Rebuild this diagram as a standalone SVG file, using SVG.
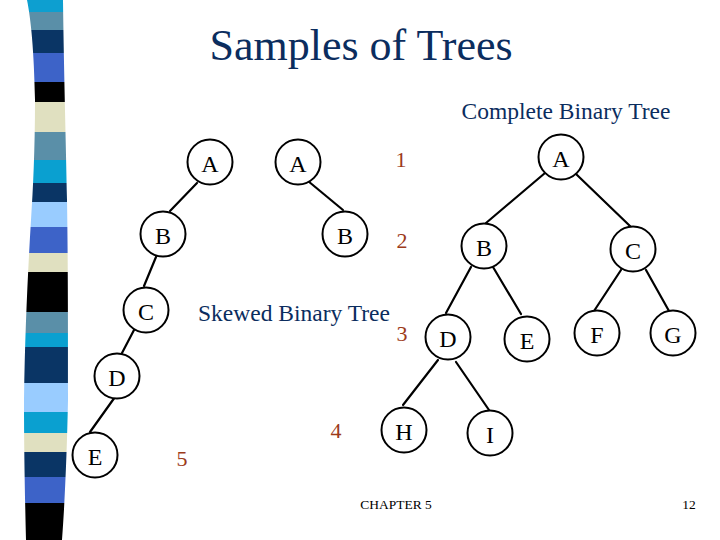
<svg xmlns="http://www.w3.org/2000/svg" width="720" height="540" viewBox="0 0 720 540">
<style>
.t{font-family:"Liberation Serif","Times New Roman",serif}
.navy{fill:#0b2d5e}
.num{fill:#9c3b1a;font-size:22px}
.node circle{fill:#fff;stroke:#000;stroke-width:2}
.node text{font-family:"Liberation Serif","Times New Roman",serif;font-size:24px;fill:#000;text-anchor:middle}
#edges line{stroke:#000;stroke-width:2.2;stroke-linecap:round}
</style>
<defs>
<clipPath id="band"><path d="M27,0 C31,20 34,50 35,100 C35,150 33,190 31,220 C28,270 25,330 24,400 C24,450 25,500 26,540 L62,540 C65,500 67,450 68,400 C68,330 68,260 67,200 C66,140 64,80 63,0 Z"/></clipPath>
</defs>
<rect width="720" height="540" fill="#fff"/>
<g id="stripe" clip-path="url(#band)">
<rect x="0" y="0" width="80" height="12" fill="#0d9fd0"/>
<rect x="0" y="12" width="80" height="18" fill="#5a8fa8"/>
<rect x="0" y="30" width="80" height="23" fill="#0a3565"/>
<rect x="0" y="53" width="80" height="29" fill="#3d63c8"/>
<rect x="0" y="82" width="80" height="20" fill="#000"/>
<rect x="0" y="102" width="80" height="30" fill="#e0e0c0"/>
<rect x="0" y="132" width="80" height="28" fill="#5a8fa8"/>
<rect x="0" y="160" width="80" height="23" fill="#0aa0d0"/>
<rect x="0" y="183" width="80" height="19" fill="#0a3565"/>
<rect x="0" y="202" width="80" height="25" fill="#99ccff"/>
<rect x="0" y="227" width="80" height="26" fill="#3d63c8"/>
<rect x="0" y="253" width="80" height="19" fill="#e0e0c0"/>
<rect x="0" y="272" width="80" height="40" fill="#000"/>
<rect x="0" y="312" width="80" height="21" fill="#5a8fa8"/>
<rect x="0" y="333" width="80" height="14" fill="#0aa0d0"/>
<rect x="0" y="347" width="80" height="36" fill="#0a3565"/>
<rect x="0" y="383" width="80" height="29" fill="#99ccff"/>
<rect x="0" y="412" width="80" height="21" fill="#0aa0d0"/>
<rect x="0" y="433" width="80" height="19" fill="#e0e0c0"/>
<rect x="0" y="452" width="80" height="25" fill="#0a3565"/>
<rect x="0" y="477" width="80" height="26" fill="#3d63c8"/>
<rect x="0" y="503" width="80" height="37" fill="#000"/>
</g>
<text class="t navy" x="361" y="60" font-size="44" text-anchor="middle">Samples of Trees</text>
<text class="t navy" x="566" y="119" font-size="23.5" text-anchor="middle">Complete Binary Tree</text>
<text class="t navy" x="294" y="321" font-size="23.5" text-anchor="middle">Skewed Binary Tree</text>
<g id="levels" class="t num" text-anchor="middle">
<text x="401" y="167">1</text>
<text x="402" y="248">2</text>
<text x="402" y="341">3</text>
<text x="336" y="438">4</text>
<text x="182" y="466">5</text>
</g>
<g id="edges">
<line x1="197" y1="183" x2="170" y2="211"/>
<line x1="156" y1="257" x2="144" y2="286"/>
<line x1="134" y1="330" x2="122" y2="353"/>
<line x1="115" y1="397" x2="90" y2="432"/>
<line x1="308" y1="181" x2="343" y2="210"/>
<line x1="545" y1="173" x2="486" y2="223"/>
<line x1="576" y1="174" x2="631" y2="227"/>
<line x1="471" y1="267" x2="446" y2="313"/>
<line x1="493" y1="267" x2="521" y2="314"/>
<line x1="621" y1="270" x2="594" y2="311"/>
<line x1="646" y1="270" x2="669" y2="311"/>
<line x1="438" y1="360" x2="403" y2="405"/>
<line x1="456" y1="362" x2="489" y2="410"/>
</g>
<g id="sA" class="node"><circle cx="210" cy="162" r="22.5"/><text x="210" y="172">A</text></g>
<g id="sB" class="node"><circle cx="163" cy="234" r="22.5"/><text x="163" y="244">B</text></g>
<g id="sC" class="node"><circle cx="146" cy="310" r="22.5"/><text x="146" y="320">C</text></g>
<g id="sD" class="node"><circle cx="117" cy="376" r="22.5"/><text x="117" y="386">D</text></g>
<g id="sE" class="node"><circle cx="95" cy="455" r="22.5"/><text x="95" y="465">E</text></g>
<g id="mA" class="node"><circle cx="298" cy="162" r="22.5"/><text x="298" y="172">A</text></g>
<g id="mB" class="node"><circle cx="345" cy="234" r="22.5"/><text x="345" y="244">B</text></g>
<g id="cA" class="node"><circle cx="561" cy="157" r="22.5"/><text x="561" y="167">A</text></g>
<g id="cB" class="node"><circle cx="484" cy="246" r="22.5"/><text x="484" y="256">B</text></g>
<g id="cC" class="node"><circle cx="633" cy="249" r="22.5"/><text x="633" y="259">C</text></g>
<g id="cD" class="node"><circle cx="448" cy="337" r="22.5"/><text x="448" y="347">D</text></g>
<g id="cE" class="node"><circle cx="527" cy="339" r="22.5"/><text x="527" y="349">E</text></g>
<g id="cF" class="node"><circle cx="597" cy="333" r="22.5"/><text x="597" y="343">F</text></g>
<g id="cG" class="node"><circle cx="673" cy="333" r="22.5"/><text x="673" y="343">G</text></g>
<g id="cH" class="node"><circle cx="404" cy="430" r="22.5"/><text x="404" y="440">H</text></g>
<g id="cI" class="node"><circle cx="490" cy="433" r="22.5"/><text x="490" y="443">I</text></g>
<text class="t" x="396" y="509" font-size="13.5" text-anchor="middle" fill="#000">CHAPTER 5</text>
<text class="t" x="689" y="509" font-size="13.5" text-anchor="middle" fill="#000">12</text>
</svg>
